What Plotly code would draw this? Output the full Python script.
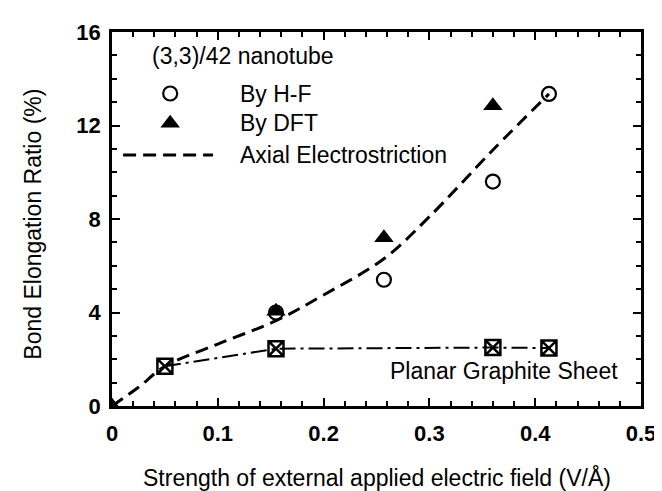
import plotly.graph_objects as go

# ---- data ----
curve_x = [0, 0.025, 0.05, 0.1, 0.155, 0.2, 0.257, 0.3, 0.36, 0.413]
curve_y = [0, 0.8, 1.7, 2.65, 3.65, 4.75, 6.3, 8.1, 10.95, 13.35]

hf_x = [0.155, 0.257, 0.36, 0.413]
hf_y = [4.0, 5.4, 9.6, 13.35]

dft_x = [0, 0.155, 0.257, 0.36]
dft_y = [0, 4.05, 7.2, 12.85]

sheet_x = [0.05, 0.155, 0.36, 0.413]
sheet_y = [1.7, 2.45, 2.5, 2.48]

x_ticks = [0, 0.1, 0.2, 0.3, 0.4, 0.5]
x_tick_text = ["0", "0.1", "0.2", "0.3", "0.4", "0.5"]
y_ticks = [0, 4, 8, 12, 16]
y_tick_text = ["0", "4", "8", "12", "16"]

FONT = "Arial, 'Liberation Sans', sans-serif"
INK = "black"

fig = go.Figure()

fig.add_trace(go.Scatter(
    x=curve_x, y=curve_y, mode="lines", line_shape="spline",
    line=dict(color=INK, width=3, dash="13px,7px"), showlegend=False))

fig.add_trace(go.Scatter(
    x=sheet_x, y=sheet_y, mode="lines+markers",
    line=dict(color=INK, width=2, dash="16px,5px,3px,5px"),
    marker=dict(symbol="square-x-open", size=15, color=INK, line=dict(width=2.5, color=INK)),
    showlegend=False))

fig.add_trace(go.Scatter(
    x=hf_x, y=hf_y, mode="markers",
    marker=dict(symbol="circle-open", size=14, color=INK, line=dict(width=2.2, color=INK)),
    showlegend=False))

fig.add_trace(go.Scatter(
    x=dft_x, y=dft_y, mode="markers",
    marker=dict(symbol="triangle-up", size=17, color=INK, line=dict(width=0)),
    showlegend=False))

# ---- hand-drawn legend (layout, paper-fraction coordinates on an overlay axis) ----
LEG_SYM_X = 0.11
LEG_ROWS = {"hf": 0.8355, "dft": 0.756, "axial": 0.671}
fig.add_trace(go.Scatter(
    x=[LEG_SYM_X], y=[LEG_ROWS["hf"]], xaxis="x2", yaxis="y2", mode="markers",
    marker=dict(symbol="circle-open", size=14, color=INK, line=dict(width=2.2, color=INK)),
    showlegend=False, hoverinfo="skip"))
fig.add_trace(go.Scatter(
    x=[LEG_SYM_X], y=[LEG_ROWS["dft"]], xaxis="x2", yaxis="y2", mode="markers",
    marker=dict(symbol="triangle-up", size=17, color=INK),
    showlegend=False, hoverinfo="skip"))
fig.add_trace(go.Scatter(
    x=[0.021, 0.191], y=[LEG_ROWS["axial"]] * 2, xaxis="x2", yaxis="y2", mode="lines",
    line=dict(color=INK, width=3, dash="13px,7px"),
    showlegend=False, hoverinfo="skip"))

TEXT_X = 0.238
annos = [
    dict(text="(3,3)/42 nanotube", x=0.072, y=0.936),
    dict(text="By H-F", x=TEXT_X, y=LEG_ROWS["hf"]),
    dict(text="By DFT", x=TEXT_X, y=LEG_ROWS["dft"]),
    dict(text="Axial Electrostriction", x=TEXT_X, y=LEG_ROWS["axial"]),
]
annotations = [dict(xref="paper", yref="paper", xanchor="left", yanchor="middle",
                    showarrow=False, font=dict(family=FONT, size=23, color=INK), **a)
               for a in annos]
annotations.append(dict(text="Planar Graphite Sheet", x=0.261, y=1.49, xref="x", yref="y",
                        xanchor="left", yanchor="middle", showarrow=False,
                        font=dict(family=FONT, size=23, color=INK)))
annotations.append(dict(text="Strength of external applied electric field (V/Å)",
                        x=0.5, y=-0.19, xref="paper", yref="paper",
                        xanchor="center", yanchor="middle", showarrow=False,
                        font=dict(family=FONT, size=23, color=INK)))
annotations.append(dict(text="Bond Elongation Ratio (%)", x=-0.1493, y=0.485,
                        xref="paper", yref="paper", textangle=-90,
                        xanchor="center", yanchor="middle", showarrow=False,
                        font=dict(family=FONT, size=23, color=INK)))

axis_common = dict(showline=True, linecolor=INK, linewidth=2.5, mirror="ticks",
                   ticks="inside", tickcolor=INK, tickwidth=2, ticklen=8,
                   showgrid=False, zeroline=False,
                   tickfont=dict(family=FONT, size=22, color=INK, weight="bold"))

fig.update_layout(
    width=662, height=491,
    margin=dict(l=104, r=29, t=21, b=93),
    paper_bgcolor="white", plot_bgcolor="white",
    showlegend=False,
    annotations=annotations,
    xaxis=dict(range=[0, 0.5], tickvals=x_ticks, ticktext=x_tick_text,
               minor=dict(dtick=0.02, ticks="inside", ticklen=5, tickwidth=2, tickcolor=INK),
               ticklabelstandoff=6, **axis_common),
    yaxis=dict(range=[0, 16], tickvals=y_ticks, ticktext=y_tick_text,
               minor=dict(dtick=1, ticks="inside", ticklen=5, tickwidth=2, tickcolor=INK),
               ticklabelstandoff=4, **axis_common),
    xaxis2=dict(overlaying="x", range=[0, 1], visible=False),
    yaxis2=dict(overlaying="y", range=[0, 1], visible=False),
)

fig.write_html("out.html")
